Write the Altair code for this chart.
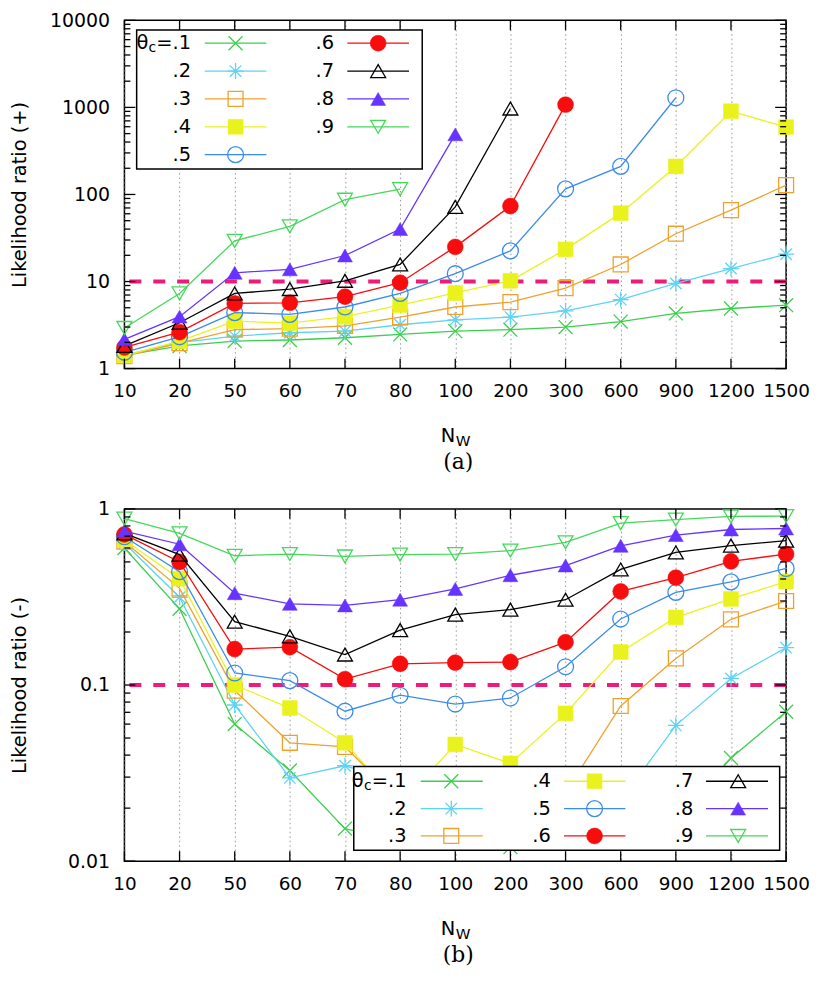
import altair as alt
import pandas as pd

NW = ["10", "20", "50", "60", "70", "80", "100", "200", "300", "600", "900", "1200", "1500"]
THETA = [".1", ".2", ".3", ".4", ".5", ".6", ".7", ".8", ".9"]

# Panel (a): likelihood ratio (+)
PLUS_1 = [1.42, 1.82, 2.07, 2.13, 2.26, 2.47, 2.69, 2.8, 3.0, 3.47, 4.3, 4.9, 5.35]
PLUS_2 = [1.43, 1.99, 2.36, 2.58, 2.69, 3.19, 3.63, 3.9, 4.6, 6.2, 9.5, 14.1, 20.6]
PLUS_3 = [1.39, 1.96, 2.8, 2.88, 3.1, 3.9, 5.1, 5.8, 8.4, 15.7, 35.4, 66, 128]
PLUS_4 = [1.41, 2.07, 3.5, 3.33, 3.95, 5.35, 7.4, 10.2, 23.4, 61, 210, 904, 594]
PLUS_5 = [1.54, 2.32, 4.4, 4.2, 5.1, 7.3, 12.3, 22.5, 116, 210, 1290, None, None]
PLUS_6 = [1.75, 2.62, 5.6, 5.7, 6.7, 9.7, 25, 73.6, 1075, None, None, None, None]
PLUS_7 = [1.82, 3.36, 7.3, 8.2, 10.2, 15.7, 72, 970, None, None, None, None, None]
PLUS_8 = [2.17, 3.95, 12.6, 13.8, 19.9, 40, 490, None, None, None, None, None, None]
PLUS_9 = [2.93, 7.3, 29.3, 43, 87, 115, None, None, None, None, None, None, None]

# Panel (b): likelihood ratio (-)
MINUS_1 = [0.6, 0.271, 0.06, 0.0327, 0.0153, 0.013, 0.013, 0.012, 0.013, 0.014, 0.017, 0.0385, 0.0705]
MINUS_2 = [0.64, 0.315, 0.077, 0.0297, 0.0348, 0.028, 0.025, 0.02, 0.018, 0.022, 0.059, 0.109, 0.163]
MINUS_3 = [0.652, 0.354, 0.093, 0.047, 0.0445, 0.022, 0.02, 0.02, 0.0245, 0.076, 0.1416, 0.236, 0.3]
MINUS_4 = [0.666, 0.402, 0.1, 0.074, 0.047, 0.021, 0.046, 0.0359, 0.069, 0.154, 0.242, 0.308, 0.387]
MINUS_5 = [0.695, 0.44, 0.117, 0.106, 0.071, 0.0875, 0.078, 0.0844, 0.127, 0.237, 0.336, 0.385, 0.459]
MINUS_6 = [0.716, 0.5, 0.16, 0.164, 0.108, 0.132, 0.134, 0.135, 0.175, 0.34, 0.407, 0.504, 0.554]
MINUS_7 = [0.726, 0.55, 0.229, 0.189, 0.149, 0.205, 0.251, 0.268, 0.305, 0.453, 0.566, 0.619, 0.66]
MINUS_8 = [0.748, 0.63, 0.332, 0.289, 0.283, 0.305, 0.351, 0.42, 0.477, 0.617, 0.71, 0.764, 0.774]
MINUS_9 = [0.88, 0.726, 0.542, 0.554, 0.537, 0.55, 0.554, 0.58, 0.646, 0.83, 0.87, 0.906, 0.91]

PLUS = [PLUS_1, PLUS_2, PLUS_3, PLUS_4, PLUS_5, PLUS_6, PLUS_7, PLUS_8, PLUS_9]
MINUS = [MINUS_1, MINUS_2, MINUS_3, MINUS_4, MINUS_5, MINUS_6, MINUS_7, MINUS_8, MINUS_9]

CROSS = "M-1,-1L1,1M-1,1L1,-1"
STAR = "M-1,0L1,0M0,-1L0,1M-0.72,-0.72L0.72,0.72M-0.72,0.72L0.72,-0.72"
STYLE = {
    ".1": dict(color="#3ccf4e", shape=CROSS, filled=False, size=196),
    ".2": dict(color="#5fd3f3", shape=STAR, filled=False, size=256),
    ".3": dict(color="#f0a12c", shape="square", filled=False, size=225),
    ".4": dict(color="#eaf21e", shape="square", filled=True, size=225),
    ".5": dict(color="#3b8beb", shape="circle", filled=False, size=256),
    ".6": dict(color="#f70d0d", shape="circle", filled=True, size=256),
    ".7": dict(color="#000000", shape="triangle-up", filled=False, size=225),
    ".8": dict(color="#6633ff", shape="triangle-up", filled=True, size=225),
    ".9": dict(color="#44d95a", shape="triangle-down", filled=False, size=225),
}
PINK = "#f01a78"
SANS = "DejaVu Sans"
DUMMY = pd.DataFrame({"a": [0]})


def point_mark(t):
    s = STYLE[t]
    kw = dict(shape=s["shape"], size=s["size"], filled=s["filled"], opacity=1)
    if s["filled"]:
        kw.update(fill=s["color"], stroke=s["color"], strokeWidth=0.5)
    else:
        kw.update(stroke=s["color"], strokeWidth=1.3, fill="transparent")
    return kw


def panel(series, ydomain, yticks, minor, width, height, ytitle, title_pad,
          legend, dash_value, sub_label):
    xscale = alt.Scale(type="point", padding=0, domain=NW)
    yscale = alt.Scale(type="log", domain=ydomain, nice=False)
    x_main = alt.X("N:O", sort=NW, scale=xscale, axis=alt.Axis(
        title=None, grid=True, gridDash=[1.5, 3], gridColor="#8c8c8c", gridWidth=0.9,
        ticks=False, tickSize=0, domain=False, labelAngle=0, labelPadding=13,
        labelFontSize=18.5, labelFont=SANS, labelColor="black"))
    y_main = alt.Y("value:Q", scale=yscale, axis=alt.Axis(
        values=yticks, format="~g", title=ytitle, ticks=False, tickSize=0,
        grid=False, domain=False, labelPadding=15, titlePadding=title_pad,
        labelFontSize=19, labelFont=SANS, labelColor="black",
        titleFont=SANS, titleFontSize=19.5, titleFontWeight="normal", titleColor="black"))
    x_plain = alt.X("N:O", sort=NW, scale=xscale)
    y_plain = alt.Y("value:Q", scale=yscale)

    layers = []
    layers.append(alt.Chart(pd.DataFrame({"value": [dash_value]})).mark_rule(
        color=PINK, strokeWidth=4, strokeDash=[12, 12]).encode(y=y_main))

    for t, vals in zip(THETA, series):
        df = pd.DataFrame({"N": NW, "value": vals}).dropna()
        c = STYLE[t]["color"]
        layers.append(alt.Chart(df).mark_line(color=c, strokeWidth=1.3).encode(x=x_main, y=y_plain))
        layers.append(alt.Chart(df).mark_point(**point_mark(t)).encode(x=x_plain, y=y_plain))

    tick_df = pd.DataFrame({"N": NW})
    layers.append(alt.Chart(tick_df).mark_rule(color="black", strokeWidth=1.3).encode(
        x=x_plain, y=alt.value(0), y2=alt.value(10)))
    layers.append(alt.Chart(tick_df).mark_rule(color="black", strokeWidth=1.3).encode(
        x=x_plain, y=alt.value(height - 10), y2=alt.value(height)))
    maj = pd.DataFrame({"value": yticks})
    mnr = pd.DataFrame({"value": minor})
    for d, ln in ((maj, 11), (mnr, 6)):
        layers.append(alt.Chart(d).mark_rule(color="black", strokeWidth=1.3).encode(
            y=y_plain, x=alt.value(0), x2=alt.value(ln)))
        layers.append(alt.Chart(d).mark_rule(color="black", strokeWidth=1.3).encode(
            y=y_plain, x=alt.value(width - ln), x2=alt.value(width)))

    bx1, bx2, by1, by2 = legend["box"]
    layers.append(alt.Chart(DUMMY).mark_rect(fill="white", stroke="black", strokeWidth=1.5).encode(
        x=alt.value(bx1), x2=alt.value(bx2), y=alt.value(by1), y2=alt.value(by2)))
    for t, (col, row) in zip(THETA, legend["cells"]):
        tx, lx1, lx2, mx = legend["cols"][col]
        ty = legend["rows"][row]
        c = STYLE[t]["color"]
        label = "=.1" if t == ".1" else t
        layers.append(alt.Chart(DUMMY).mark_text(align="right", baseline="middle", font=SANS,
                                                 fontSize=19.5, color="black").encode(
            x=alt.value(tx), y=alt.value(ty), text=alt.value(label)))
        if t == ".1":
            layers.append(alt.Chart(DUMMY).mark_text(align="right", baseline="middle", font=SANS,
                                                     fontSize=14, color="black").encode(
                x=alt.value(tx - 35), y=alt.value(ty + 5), text=alt.value("c")))
            layers.append(alt.Chart(DUMMY).mark_text(align="right", baseline="middle", font=SANS,
                                                     fontSize=19.5, color="black").encode(
                x=alt.value(tx - 43), y=alt.value(ty), text=alt.value("θ")))
        layers.append(alt.Chart(DUMMY).mark_rule(color=c, strokeWidth=1.3).encode(
            x=alt.value(lx1), x2=alt.value(lx2), y=alt.value(ty)))
        layers.append(alt.Chart(DUMMY).mark_point(**point_mark(t)).encode(
            x=alt.value(mx), y=alt.value(ty)))

    cx = width / 2
    layers.append(alt.Chart(DUMMY).mark_text(align="right", baseline="alphabetic", font=SANS,
                                             fontSize=19.5, color="black").encode(
        x=alt.value(cx), y=alt.value(height + 74), text=alt.value("N")))
    layers.append(alt.Chart(DUMMY).mark_text(align="left", baseline="alphabetic", font=SANS,
                                             fontSize=15, color="black").encode(
        x=alt.value(cx + 0.5), y=alt.value(height + 78), text=alt.value("W")))
    layers.append(alt.Chart(DUMMY).mark_text(align="center", baseline="alphabetic", font="DejaVu Serif",
                                             fontSize=22, color="black").encode(
        x=alt.value(cx + 3), y=alt.value(height + 101), text=alt.value(sub_label)))

    return alt.layer(*layers).properties(width=width, height=height)


top_minor = [m * 10 ** k for k in range(0, 4) for m in range(2, 10)]
bot_minor = [m * 10 ** k for k in (-2, -1) for m in range(2, 10)]

W = 665
TOP_H = 350
BOT_H = 354

top_legend = dict(
    box=(12.3, 299.3, 9.7, 149.3),
    rows=[23, 51, 79, 107, 135],
    cols=[(67, 80.7, 142.7, 111.7), (210.7, 224, 286, 255)],
    cells=[(0, 0), (0, 1), (0, 2), (0, 3), (0, 4), (1, 0), (1, 1), (1, 2), (1, 3)],
)
bl = 230.5
bot_legend = dict(
    box=(bl, bl + 428, BOT_H - 95, BOT_H - 11),
    rows=[BOT_H - 80.3, BOT_H - 52.8, BOT_H - 25.3],
    cols=[(bl + 53, bl + 67.3, bl + 129.7, bl + 98),
          (bl + 198, bl + 211.3, bl + 273, bl + 242),
          (bl + 341.3, bl + 354, bl + 416.3, bl + 386.3)],
    cells=[(0, 0), (0, 1), (0, 2), (1, 0), (1, 1), (1, 2), (2, 0), (2, 1), (2, 2)],
)

top = panel(PLUS, [1, 10000], [1, 10, 100, 1000, 10000], top_minor, W, TOP_H,
            "Likelihood ratio (+)", 20, top_legend, 10, "(a)")
bottom = panel(MINUS, [0.01, 1], [0.01, 0.1, 1], bot_minor, W, BOT_H,
               "Likelihood ratio (-)", 38, bot_legend, 0.1, "(b)")

chart = alt.concat(top, bottom, columns=1, spacing=25, align="none").properties(
    padding={"left": 0, "top": 0, "right": 0, "bottom": 0},
    background="white",
).configure_view(stroke="black", strokeWidth=1.5)

chart.save("out.html", embed_options={"renderer": "svg", "actions": False})
